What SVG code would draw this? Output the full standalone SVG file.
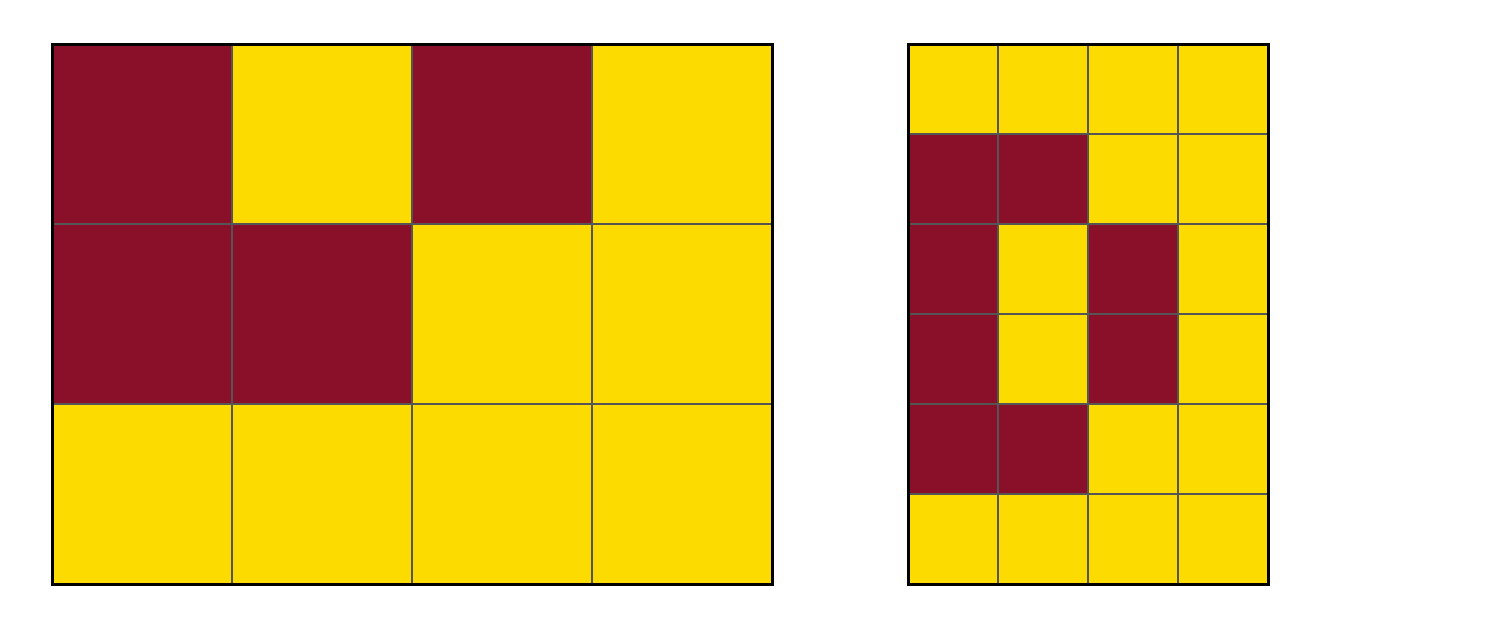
<svg xmlns="http://www.w3.org/2000/svg" width="1500" height="629" viewBox="0 0 1500 629">
<style>
.r{fill:#8A0F28;stroke:#555555;stroke-width:2}
.y{fill:#FCDC00;stroke:#555555;stroke-width:2}
.b{fill:none;stroke:#000000;stroke-width:3}
</style>
<rect width="1500" height="629" fill="#ffffff"/>
<g id="left-grid">
<rect class="r" x="52" y="44" width="180" height="180"/>
<rect class="y" x="232" y="44" width="180" height="180"/>
<rect class="r" x="412" y="44" width="180" height="180"/>
<rect class="y" x="592" y="44" width="180" height="180"/>
<rect class="r" x="52" y="224" width="180" height="180"/>
<rect class="r" x="232" y="224" width="180" height="180"/>
<rect class="y" x="412" y="224" width="180" height="180"/>
<rect class="y" x="592" y="224" width="180" height="180"/>
<rect class="y" x="52" y="404" width="180" height="180"/>
<rect class="y" x="232" y="404" width="180" height="180"/>
<rect class="y" x="412" y="404" width="180" height="180"/>
<rect class="y" x="592" y="404" width="180" height="180"/>
<rect class="b" x="52.5" y="44.5" width="720" height="540"/>
</g>
<g id="right-grid">
<rect class="y" x="908" y="44" width="90" height="90"/>
<rect class="y" x="998" y="44" width="90" height="90"/>
<rect class="y" x="1088" y="44" width="90" height="90"/>
<rect class="y" x="1178" y="44" width="90" height="90"/>
<rect class="r" x="908" y="134" width="90" height="90"/>
<rect class="r" x="998" y="134" width="90" height="90"/>
<rect class="y" x="1088" y="134" width="90" height="90"/>
<rect class="y" x="1178" y="134" width="90" height="90"/>
<rect class="r" x="908" y="224" width="90" height="90"/>
<rect class="y" x="998" y="224" width="90" height="90"/>
<rect class="r" x="1088" y="224" width="90" height="90"/>
<rect class="y" x="1178" y="224" width="90" height="90"/>
<rect class="r" x="908" y="314" width="90" height="90"/>
<rect class="y" x="998" y="314" width="90" height="90"/>
<rect class="r" x="1088" y="314" width="90" height="90"/>
<rect class="y" x="1178" y="314" width="90" height="90"/>
<rect class="r" x="908" y="404" width="90" height="90"/>
<rect class="r" x="998" y="404" width="90" height="90"/>
<rect class="y" x="1088" y="404" width="90" height="90"/>
<rect class="y" x="1178" y="404" width="90" height="90"/>
<rect class="y" x="908" y="494" width="90" height="90"/>
<rect class="y" x="998" y="494" width="90" height="90"/>
<rect class="y" x="1088" y="494" width="90" height="90"/>
<rect class="y" x="1178" y="494" width="90" height="90"/>
<rect class="b" x="908.5" y="44.5" width="360" height="540"/>
</g>
</svg>
